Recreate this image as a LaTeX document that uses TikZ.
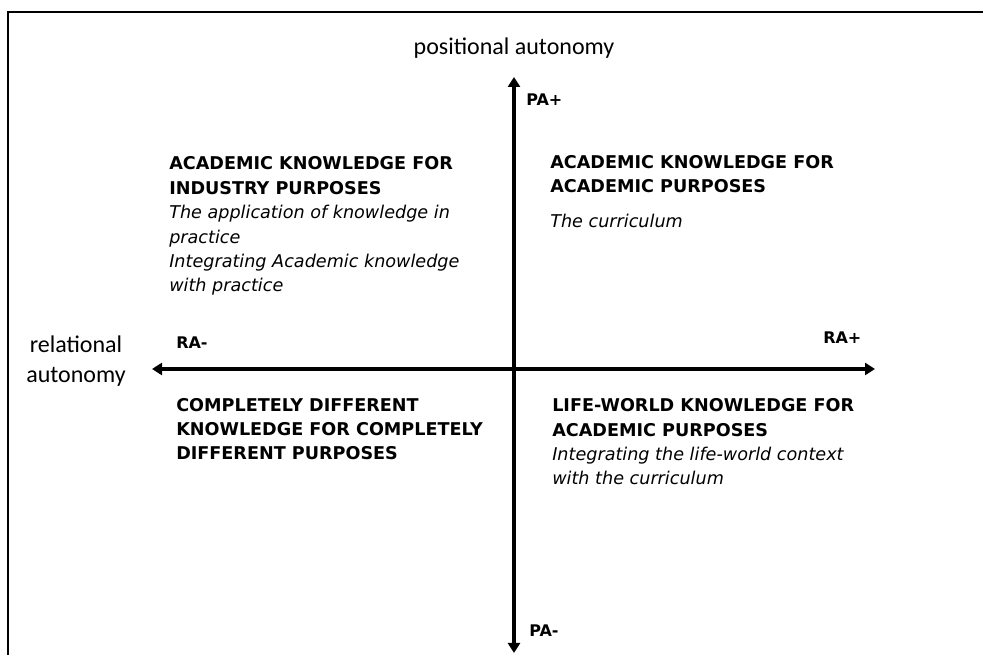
\documentclass[tikz,border=0pt]{standalone}
\usepackage{fontspec}
\setmainfont{DejaVu Sans}
\newfontfamily\axisfont{Carlito}
\usepackage{tikz}
\usetikzlibrary{arrows.meta}

\begin{document}
\begin{tikzpicture}[x=0.75pt,y=-0.75pt]
\tikzstyle{every node}+=[inner sep=0pt]
\tikzstyle{axis}=[black, line width=2.3pt, {Triangle[length=7.5pt,width=9pt]}-{Triangle[length=7.5pt,width=9pt]}]
\tikzstyle{frame}=[black, line width=1.6pt]
\tikzstyle{axislabel}=[font=\axisfont\fontsize{18}{22.5}\selectfont, align=center]
\tikzstyle{pole}=[font=\bfseries\fontsize{12}{14}\selectfont, anchor=base west]
\tikzstyle{quad}=[font=\fontsize{13.2}{18.3}\selectfont, align=left, anchor=base west]
\clip (0,0) rectangle (983,655);
\draw [frame] (8,700) -- (8,12) -- (1000,12);
\coordinate (paplus) at (514,77);
\coordinate (paminus) at (514,653);
\coordinate (raminus) at (152,369);
\coordinate (raplus) at (875,369);
\draw [axis] (paminus) -- (paplus);
\draw [axis] (raminus) -- (raplus);
\node [axislabel, anchor=base] (posaut) at (514,55) {positional autonomy};
\node [axislabel, anchor=base] (relaut) at (76,383) {relational\\autonomy};
\node [pole] (paplab) at (526,106) {PA+};
\node [pole] (pamlab) at (529,637) {PA-};
\node [pole] (ramlab) at (176,349) {RA-};
\node [pole] (raplab) at (823,344) {RA+};
\node [quad] (industry) at (169,292) {\textbf{ACADEMIC KNOWLEDGE FOR}\\\textbf{INDUSTRY PURPOSES}\\\textit{The application of knowledge in}\\\textit{practice}\\\textit{Integrating Academic knowledge}\\\textit{with practice}};
\node [quad] (academic) at (550,228) {\textbf{ACADEMIC KNOWLEDGE FOR}\\\textbf{ACADEMIC PURPOSES}\\[8.3pt]\textit{The curriculum}};
\node [quad] (different) at (176,460) {\textbf{COMPLETELY DIFFERENT}\\\textbf{KNOWLEDGE FOR COMPLETELY}\\\textbf{DIFFERENT PURPOSES}};
\node [quad] (lifeworld) at (552,485) {\textbf{LIFE-WORLD KNOWLEDGE FOR}\\\textbf{ACADEMIC PURPOSES}\\\textit{Integrating the life-world context}\\\textit{with the curriculum}};
\end{tikzpicture}
\end{document}
